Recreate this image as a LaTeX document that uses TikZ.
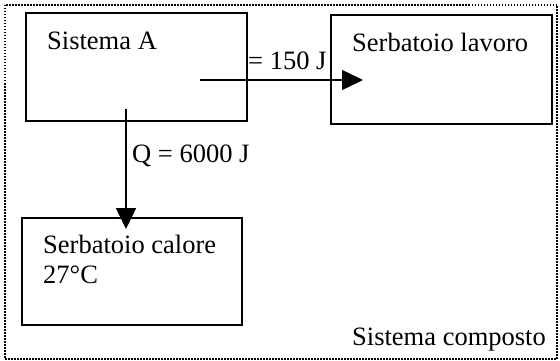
\documentclass[tikz,border=0pt]{standalone}
\usepackage{fontspec}
\setmainfont{Liberation Serif}
\usetikzlibrary{arrows.meta}
\begin{document}
\begin{tikzpicture}[x=1pt,y=-1pt,
  box/.style={draw,line width=1.7pt},
  lbl/.style={anchor=base west,inner sep=0pt,font=\fontsize{26.5}{31}\selectfont},
  flow/.style={line width=1.6pt,-{Triangle[length=21pt,width=20pt]}},
  frame/.style={line width=1.8pt,dash pattern=on 1.5pt off 1.5pt}]
  \useasboundingbox (0,0) rectangle (560,361);
  % outer frame of the composite system
  \draw[frame] (5,5) rectangle (557,359);
  % the three subsystems
  \draw[box] (26,13) rectangle (247,121);
  \draw[box] (331,15) rectangle (552,124);
  \draw[box] (22,218) rectangle (242,325);
  \node (sysA) [lbl] at (47,50) {Sistema A};
  \node (lavoro) [lbl] at (352,52) {Serbatoio lavoro};
  \node (calore) [lbl] at (43,253) {Serbatoio calore};
  \node (temp) [lbl] at (43,283) {27°C};
  \node (comp) [lbl] at (352,345) {Sistema composto};
  % exchanged quantities
  \node (W) [lbl] at (248,70) {= 150 J};
  \node (Q) [lbl] at (132,162) {Q = 6000 J};
  % flow endpoints
  \coordinate (wOut) at (200,80);
  \coordinate (wIn) at (363,80);
  \coordinate (qOut) at (126,109);
  \coordinate (qIn) at (126,229);
  \draw[flow] (wOut) -- (wIn);
  \draw[flow] (qOut) -- (qIn);
\end{tikzpicture}
\end{document}
